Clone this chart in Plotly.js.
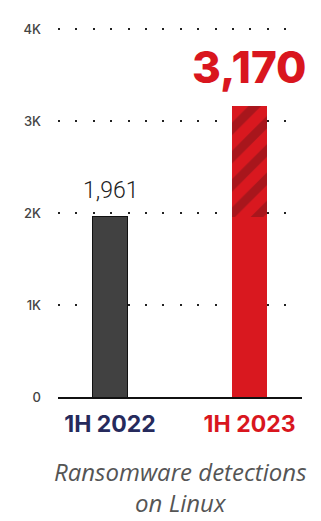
<!DOCTYPE html>
<html>
<head>
<meta charset="utf-8">
<script src="https://cdn.plot.ly/plotly-3.0.1.min.js"></script>
<style>html,body{margin:0;padding:0;background:#fff;}#chart{width:321px;height:521px;}</style>
</head>
<body>
<div id="chart"></div>
<script>
const categories = ['1H 2022', '1H 2023'];
const values = [1961, 3170];
const valueLabels = ['1,961', '3,170'];
const tickVals = [0, 1000, 2000, 3000, 4000];
const tickText = ['0', '1K', '2K', '3K', '4K'];
const catColors = ['#262a5c', '#d9161e'];
const captionLines = ['Ransomware detections', 'on Linux'];

// base part: 2022 full, 2023 up to previous value; increase part hatched
const baseVals = [values[0], values[0]];
const incVals = [null, values[1] - values[0]];

const traces = [
  {
    type: 'bar', x: categories, y: baseVals, width: 0.245,
    marker: { color: ['#414141', '#d9181f'], line: { color: ['#111111', '#d9181f'], width: [1, 0] } },
    hoverinfo: 'skip'
  },
  {
    type: 'bar', x: categories, y: incVals, width: 0.245,
    marker: {
      color: '#d9181f',
      line: { width: 0 },
      pattern: { shape: '/', fgcolor: '#a8161c', bgcolor: '#d9181f', size: 20, solidity: 0.45 }
    },
    hoverinfo: 'skip'
  }
];

const layout = {
  width: 321, height: 521,
  margin: { l: 58, r: 19, t: 20, b: 124 },
  barmode: 'stack',
  showlegend: false,
  paper_bgcolor: '#ffffff', plot_bgcolor: '#ffffff',
  xaxis: {
    type: 'category', range: [-0.373, 1.376],
    tickvals: categories,
    ticktext: categories.map((c, i) => '<span style="color:' + catColors[i] + '"><b>' + c + '</b></span>'),
    tickfont: { family: 'Inter, Roboto, sans-serif', size: 23, weight: 700 },
    showline: true, linecolor: '#111111', linewidth: 2,
    showgrid: false, ticks: '', ticklabelstandoff: 5
  },
  yaxis: {
    range: [0, 4100],
    tickvals: tickVals, ticktext: tickText,
    tickfont: { family: 'Inter, Roboto, sans-serif', size: 13, color: '#444', weight: 500 },
    showgrid: true, gridcolor: '#222', gridwidth: 2, griddash: '2px,15.4px',
    zeroline: false, showline: false, ticks: '', ticklabelstandoff: 16
  },
  annotations: [
    {
      x: categories[0], y: values[0], xref: 'x', yref: 'y', text: valueLabels[0],
      showarrow: false, yanchor: 'bottom', yshift: 11,
      font: { family: 'Roboto, sans-serif', size: 23, color: '#222222', weight: 300 }
    },
    {
      x: categories[1], y: values[1], xref: 'x', yref: 'y', text: valueLabels[1],
      showarrow: false, yanchor: 'bottom', yshift: 10,
      font: { family: 'Inter, Roboto, sans-serif', size: 44, color: '#d9161e', weight: 800 }
    },
    {
      x: 0.5, y: -0.24, xref: 'paper', yref: 'paper', text: captionLines.join('<br>'),
      showarrow: false, yanchor: 'middle', xanchor: 'center',
      font: { family: 'Open Sans, sans-serif', size: 24, color: '#555', style: 'italic' }
    }
  ]
};

Plotly.newPlot('chart', traces, layout, { staticPlot: true, displayModeBar: false });
</script>
</body>
</html>
